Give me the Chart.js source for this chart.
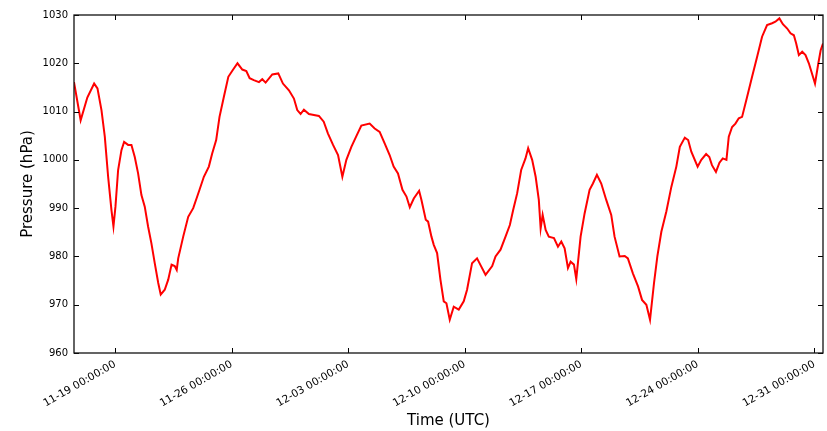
<!DOCTYPE html>
<html>
<head>
<meta charset="utf-8">
<script src="https://cdn.jsdelivr.net/npm/chart.js@4.4.1/dist/chart.umd.min.js"></script>
<style>
  html, body { margin: 0; padding: 0; background: #ffffff; }
  #wrap { width: 827px; height: 431px; }
</style>
</head>
<body>
<div id="wrap"><canvas id="c" width="827" height="431"></canvas></div>
<script>
// Time in days since 11-19 00:00:00 (UTC)
const timeDays = [
  -2.47, -2.07, -1.67, -1.26, -1.06, -0.82, -0.62, -0.42, -0.22, -0.10,
  0.02, 0.18, 0.38, 0.54, 0.78, 0.98, 1.18, 1.38, 1.58, 1.78, 1.98, 2.18, 2.38, 2.59, 2.74, 2.98, 3.19, 3.39, 3.58, 3.70, 3.79,
  4.09, 4.39, 4.69, 4.89, 5.07, 5.33, 5.63, 5.83, 6.07, 6.27, 6.53, 6.80,
  7.07, 7.35, 7.64, 7.88, 8.08, 8.33, 8.64, 8.84, 9.04, 9.44, 9.80, 10.08, 10.44, 10.74, 10.94, 11.14, 11.34, 11.64, 11.94, 12.24, 12.53, 12.78, 13.09, 13.39, 13.65,
  13.89, 14.19, 14.49, 14.79, 15.29, 15.59, 15.89, 16.19, 16.49, 16.73, 16.99, 17.26, 17.50, 17.70, 17.94, 18.26, 18.40, 18.66, 18.80, 19.00, 19.14, 19.34, 19.54, 19.74, 19.90, 20.10,
  20.34, 20.64, 20.94, 21.14, 21.44, 21.74, 21.98, 22.25, 22.65, 22.85, 23.15, 23.45, 23.71, 23.91, 24.15, 24.39, 24.65, 24.81,
  25.05, 25.26, 25.45, 25.56, 25.68, 25.86, 26.05, 26.36, 26.60, 26.80, 27.00, 27.20, 27.36, 27.56, 27.70,
  27.96, 28.20, 28.50, 28.70, 28.94, 29.20, 29.50, 29.80, 30.00, 30.30, 30.61, 30.80, 31.10, 31.41, 31.65, 31.91, 32.13,
  32.37, 32.57, 32.81, 33.11, 33.41, 33.71, 33.92, 34.22, 34.42, 34.61, 34.99, 35.21, 35.50, 35.69, 35.85, 36.09, 36.30, 36.50, 36.72,
  36.86, 37.06, 37.26, 37.46, 37.66, 37.96, 38.26, 38.56, 38.86, 39.16, 39.46, 39.66, 39.90, 40.11, 40.37, 40.57, 40.77, 40.91, 41.07, 41.27, 41.47, 41.67, 41.83, 42.04, 42.24, 42.38, 42.52
];

// Pressure (hPa)
const pressureHpa = [
  1016.1, 1008.2, 1012.9, 1015.8, 1014.8, 1010.3, 1004.8, 996.5, 989.6, 986.2,
  990.3, 997.9, 1002.0, 1003.7, 1003.1, 1003.1, 1000.6, 997.2, 992.7, 990.3, 986.2, 982.7, 978.6, 974.5, 972.1, 973.1, 975.2, 978.3, 978.0, 977.2, 979.6,
  984.1, 988.2, 990.0, 992.0, 993.8, 996.5, 998.6, 1001.3, 1004.1, 1008.9, 1013.0, 1017.2,
  1018.6, 1020.0, 1018.7, 1018.4, 1016.9, 1016.5, 1016.1, 1016.7, 1016.0, 1017.7, 1017.9, 1015.8, 1014.4, 1012.7, 1010.3, 1009.5, 1010.4, 1009.5, 1009.3, 1009.1, 1007.9, 1005.5, 1003.1, 1001.0, 996.5,
  1000.0, 1002.7, 1004.9, 1007.1, 1007.5, 1006.5, 1005.8, 1003.4, 1001.0, 998.6, 997.2, 993.8, 992.4, 990.2, 992.0, 993.6, 991.7, 987.6, 987.2, 984.1, 982.4, 980.7, 975.2, 970.7, 970.3, 966.9,
  969.6, 969.0, 970.7, 973.1, 978.6, 979.6, 978.0, 976.2, 978.0, 980.0, 981.4, 984.1, 986.5, 989.6, 993.1, 997.9, 1000.3, 1002.4,
  1000.0, 996.5, 991.7, 985.8, 988.6, 985.5, 984.1, 983.8, 982.0, 983.1, 981.7, 977.6, 978.9, 978.3, 975.3,
  984.1, 988.9, 993.8, 995.1, 996.9, 995.1, 991.7, 988.6, 984.1, 980.0, 980.1, 979.6, 976.5, 973.8, 971.0, 970.0, 966.9,
  974.5, 980.0, 985.1, 989.3, 994.4, 998.6, 1002.7, 1004.6, 1004.1, 1001.7, 998.6, 1000.0, 1001.2, 1000.6, 998.9, 997.5, 999.4, 1000.3, 1000.0,
  1004.8, 1006.8, 1007.5, 1008.6, 1008.9, 1013.0, 1017.2, 1021.3, 1025.5, 1027.9, 1028.3, 1028.6, 1029.3, 1028.1, 1027.2, 1026.2, 1025.8, 1024.1, 1021.7, 1022.4, 1021.7, 1020.0, 1018.2, 1015.8, 1020.0, 1022.7, 1024.1
];

const xTickDays = [0, 7, 14, 21, 28, 35, 42];
const xTickLabels = ["11-19 00:00:00", "11-26 00:00:00", "12-03 00:00:00", "12-10 00:00:00", "12-17 00:00:00", "12-24 00:00:00", "12-31 00:00:00"];
const yTickValues = [960, 970, 980, 990, 1000, 1010, 1020, 1030];

const xTitle = "Time (UTC)";
const yTitle = "Pressure (hPa)";

const points = timeDays.map((t, i) => ({ x: t, y: pressureHpa[i] }));

const FONT = "'DejaVu Sans', 'Liberation Sans', sans-serif";

// Draw matplotlib-classic style frame with inward ticks on all four sides
const framePlugin = {
  id: 'frame',
  afterDatasetsDraw(chart) {
    const { ctx, chartArea } = chart;
    const { left, right, top, bottom } = chartArea;
    const xs = chart.scales.x, ys = chart.scales.y;
    const L = 5;
    ctx.save();
    ctx.strokeStyle = '#000';
    ctx.lineWidth = 1;
    ctx.beginPath();
    xs.ticks.forEach(t => {
      const px = Math.round(xs.getPixelForValue(t.value)) + 0.5;
      ctx.moveTo(px, bottom); ctx.lineTo(px, bottom - L);
      ctx.moveTo(px, top); ctx.lineTo(px, top + L);
    });
    ys.ticks.forEach(t => {
      const py = Math.round(ys.getPixelForValue(t.value)) + 0.5;
      ctx.moveTo(left, py); ctx.lineTo(left + L, py);
      ctx.moveTo(right, py); ctx.lineTo(right - L, py);
    });
    ctx.stroke();
    ctx.lineWidth = 1.3;
    ctx.strokeStyle = '#111';
    ctx.strokeRect(left, top, right - left, bottom - top);
    ctx.restore();
  }
};

new Chart(document.getElementById('c'), {
  type: 'line',
  data: {
    datasets: [{
      data: points,
      borderColor: '#ff0000',
      borderWidth: 2,
      pointRadius: 0,
      tension: 0,
      fill: false
    }]
  },
  options: {
    responsive: false,
    animation: false,
    devicePixelRatio: 1,
    layout: { padding: { top: 15, right: 4, left: 0, bottom: 0 } },
    plugins: { legend: { display: false }, tooltip: { enabled: false } },
    scales: {
      x: {
        type: 'linear',
        min: timeDays[0],
        max: timeDays[timeDays.length - 1],
        grid: { display: false, drawTicks: false },
        border: { display: false },
        afterBuildTicks: (s) => { s.ticks = xTickDays.map(v => ({ value: v })); },
        afterFit: (s) => { s.height = 78; },
        ticks: {
          autoSkip: false,
          maxRotation: 30,
          minRotation: 30,
          padding: 5,
          color: '#000',
          font: { family: FONT, size: 10.6 },
          callback: (v) => { const i = xTickDays.indexOf(v); return i >= 0 ? xTickLabels[i] : ''; }
        },
        title: {
          display: true,
          text: xTitle,
          color: '#000',
          font: { family: FONT, size: 15, lineHeight: 1.2 },
          padding: { top: 0, bottom: 1 }
        }
      },
      y: {
        type: 'linear',
        min: 960,
        max: 1030,
        grid: { display: false, drawTicks: false },
        border: { display: false },
        afterBuildTicks: (s) => { s.ticks = yTickValues.map(v => ({ value: v })); },
        afterFit: (s) => { s.width = 74; },
        ticks: {
          padding: 6,
          color: '#000',
          font: { family: FONT, size: 10 },
          callback: (v) => String(v)
        },
        title: {
          display: true,
          text: yTitle,
          color: '#000',
          font: { family: FONT, size: 15, lineHeight: 1.2 },
          padding: { top: 19, bottom: 0 }
        }
      }
    }
  },
  plugins: [framePlugin]
});
</script>
</body>
</html>
